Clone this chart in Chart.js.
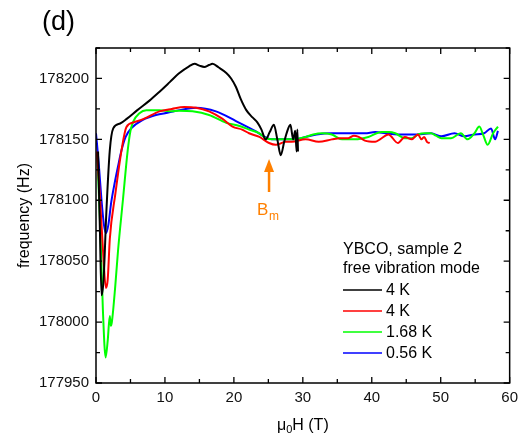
<!DOCTYPE html>
<html>
<head>
<meta charset="utf-8">
<script src="https://cdn.jsdelivr.net/npm/chart.js@4"></script>
<style>
  body { margin: 0; background: #fff; }
  canvas { display: block; }
</style>
</head>
<body>
<canvas id="chart" width="524" height="440"></canvas>
<script>
"use strict";

// data (x in T, y in Hz)
const blackX = [0.3, 0.55, 0.8, 1.1, 1.5, 2.0, 2.5, 3.5, 4.5, 6, 7.8, 9, 10.7, 12, 13.5, 14.3, 15, 15.7, 16.4, 16.9, 17.8, 18.9, 19.6, 20.3, 21, 21.8, 22.7, 23.4, 24, 24.6, 25.2, 25.8, 26.3, 26.8, 27.3, 27.7, 28.2, 28.6, 28.9, 29.1, 29.2, 29.3];
const blackY = [178140, 178080, 178022, 178035, 178090, 178141, 178159, 178163, 178167, 178174, 178182, 178188, 178197, 178204, 178210, 178212, 178210.5, 178209.5, 178211, 178212, 178209, 178204.5, 178200, 178193, 178183, 178174, 178168, 178164, 178158, 178150, 178156, 178162, 178150, 178137, 178148, 178156, 178162, 178150, 178157, 178140, 178158, 178140];

const redX = [0.1, 0.5, 1.0, 1.44, 1.7, 2.0, 2.8, 3.7, 4.4, 5.5, 7, 9.2, 11, 12.8, 14.5, 16.4, 18.3, 19.8, 21.2, 22.2, 23.7, 25.1, 26.1, 27.5, 28.4, 30.4, 32.3, 34.2, 35.4, 36.6, 37.4, 38.1, 39, 40.5, 41.2, 42.4, 43.8, 44.8, 45.8, 46.7, 47.2, 47.6, 48, 48.4];
const redY = [178140, 178110, 178060, 178028, 178035, 178068, 178105, 178141, 178160, 178164, 178167, 178173, 178175, 178176.5, 178176, 178173, 178167, 178160.5, 178158, 178155, 178152, 178147, 178145.5, 178148, 178148, 178150, 178148, 178150, 178151, 178151, 178153, 178152, 178149, 178148, 178150, 178154, 178147, 178152, 178150, 178154, 178150, 178152, 178148, 178147];

const greenX = [0.2, 0.6, 1.0, 1.4, 1.7, 2.0, 2.15, 2.3, 2.8, 3.2, 3.9, 4.6, 5.0, 5.4, 6.3, 7.3, 8.2, 9.2, 11, 12, 14, 16.4, 18.9, 20.8, 22.2, 23.7, 24.6, 25.5, 27, 28.5, 30.4, 31.5, 32.8, 34.2, 35.7, 37.6, 39.5, 41.4, 42.5, 43.4, 44.8, 45.8, 46.7, 47.7, 48.6, 49.3, 50.1, 51.5, 52.9, 53.9, 54.9, 55.6, 56.2, 56.8, 57.6, 58.3];
const greenY = [178135, 178080, 178010, 177971, 177985, 178005, 177997, 178000, 178030, 178059, 178100, 178141, 178157, 178164.6, 178171.5, 178174, 178174, 178174, 178173, 178173.5, 178173, 178170, 178163.5, 178161, 178158, 178155, 178151, 178150, 178150, 178150, 178152, 178154, 178155, 178154, 178150, 178150, 178152, 178156, 178156, 178155, 178151, 178151, 178154, 178155, 178155, 178153, 178151, 178151, 178155, 178150, 178155, 178160.5, 178153, 178145.5, 178155, 178160.5];

const blueX = [0, 0.4, 0.8, 1.15, 1.44, 1.8, 2.2, 2.7, 3.2, 3.7, 4.3, 5.1, 6.8, 8.7, 10.5, 12.1, 14.5, 17.4, 20.3, 23.2, 24.5, 25.5, 27.7, 29.4, 30.4, 32, 34.2, 36.5, 39, 40.5, 42, 43.8, 46.2, 48.6, 50.1, 52, 53.4, 54.9, 56.3, 57.3, 57.9, 58.3];
const blueY = [178155, 178130, 178100, 178080, 178073, 178080, 178098, 178114, 178128, 178141, 178152, 178159, 178166, 178170, 178172, 178174, 178176, 178173, 178165, 178156.5, 178152, 178150, 178150, 178150.5, 178152, 178154, 178155, 178155, 178155, 178156, 178155, 178154, 178154, 178155, 178152.5, 178155, 178152.5, 178154, 178155, 178159, 178150, 178157];

const seriesLabels = ['4 K', '4 K', '1.68 K', '0.56 K'];
const seriesColors = ['#000000', '#ff0000', '#00ff00', '#0000ff'];
const legendTitle = ['YBCO, sample 2', 'free vibration mode'];

const xTicks = [0, 10, 20, 30, 40, 50, 60];
const yTicks = [177950, 178000, 178050, 178100, 178150, 178200];
const xMinor = [5, 15, 25, 35, 45, 55];
const yMinor = [177975, 178025, 178075, 178125, 178175, 178225];
const bmField = 25.1;

const FONT = 'Arial, "Liberation Sans", sans-serif';

function toPoints(xs, ys) {
	return xs.map((x, i) => ({ x: x, y: ys[i] }));
}

const allX = [blackX, redX, greenX, blueX];
const allY = [blackY, redY, greenY, blueY];

const datasets = seriesLabels.map((label, i) => ({
	label: label,
	data: toPoints(allX[i], allY[i]),
	borderColor: seriesColors[i],
	borderWidth: 2,
	pointRadius: 0,
	fill: false,
	cubicInterpolationMode: 'monotone'
}));

const decorations = {
	id: 'decorations',
	afterDatasetsDraw(chart) {
		const ctx = chart.ctx;
		const area = chart.chartArea;
		const xs = chart.scales.x;
		const ys = chart.scales.y;
		ctx.save();

		// frame
		ctx.strokeStyle = '#000';
		ctx.lineWidth = 1.5;
		ctx.strokeRect(area.left, area.top, area.right - area.left, area.bottom - area.top);

		// inward ticks on all four sides
		ctx.lineWidth = 1.3;
		function xTick(v, len) {
			const px = xs.getPixelForValue(v);
			ctx.beginPath();
			ctx.moveTo(px, area.bottom); ctx.lineTo(px, area.bottom - len);
			ctx.moveTo(px, area.top); ctx.lineTo(px, area.top + len);
			ctx.stroke();
		}
		function yTick(v, len) {
			const py = ys.getPixelForValue(v);
			ctx.beginPath();
			ctx.moveTo(area.left, py); ctx.lineTo(area.left + len, py);
			ctx.moveTo(area.right, py); ctx.lineTo(area.right - len, py);
			ctx.stroke();
		}
		xTicks.forEach(v => xTick(v, 6));
		xMinor.forEach(v => xTick(v, 4));
		yTicks.forEach(v => yTick(v, 6));
		yMinor.forEach(v => yTick(v, 4));

		// B_m arrow
		const ax = xs.getPixelForValue(bmField);
		ctx.strokeStyle = '#ff8000';
		ctx.fillStyle = '#ff8000';
		ctx.lineWidth = 2.5;
		ctx.beginPath();
		ctx.moveTo(ax, 192);
		ctx.lineTo(ax, 168);
		ctx.stroke();
		ctx.beginPath();
		ctx.moveTo(ax, 159);
		ctx.lineTo(ax - 5, 172);
		ctx.lineTo(ax + 5, 172);
		ctx.closePath();
		ctx.fill();
		ctx.font = '17px ' + FONT;
		ctx.textBaseline = 'alphabetic';
		ctx.textAlign = 'left';
		ctx.fillText('B', ax - 12, 215);
		ctx.font = '12px ' + FONT;
		ctx.fillText('m', ax, 220);

		// legend
		ctx.fillStyle = '#000';
		ctx.font = '16px ' + FONT;
		ctx.textBaseline = 'middle';
		ctx.fillText(legendTitle[0], 343, 250);
		ctx.fillText(legendTitle[1], 343, 269);
		chart.data.datasets.forEach((ds, i) => {
			const y = 290 + i * 21;
			ctx.strokeStyle = ds.borderColor;
			ctx.lineWidth = 1.5;
			ctx.beginPath();
			ctx.moveTo(343, y);
			ctx.lineTo(382, y);
			ctx.stroke();
			ctx.fillStyle = '#000';
			ctx.fillText(ds.label, 386, y + 1);
		});

		// panel label
		ctx.font = '27px ' + FONT;
		ctx.fillText('(d)', 42, 23);

		// axis titles
		ctx.font = '16px ' + FONT;
		ctx.textAlign = 'left';
		ctx.textBaseline = 'alphabetic';
		const cx = (area.left + area.right) / 2;
		const w1 = ctx.measureText('\u03bc').width;
		ctx.font = '11px ' + FONT;
		const w2 = ctx.measureText('0').width;
		ctx.font = '16px ' + FONT;
		const w3 = ctx.measureText('H (T)').width;
		let tx = cx - (w1 + w2 + w3) / 2;
		ctx.fillText('\u03bc', tx, 430);
		ctx.font = '11px ' + FONT;
		ctx.fillText('0', tx + w1, 433);
		ctx.font = '16px ' + FONT;
		ctx.fillText('H (T)', tx + w1 + w2, 430);

		ctx.translate(25, (area.top + area.bottom) / 2);
		ctx.rotate(-Math.PI / 2);
		ctx.textAlign = 'center';
		ctx.textBaseline = 'middle';
		ctx.fillText('frequency (Hz)', 0, 0);

		ctx.restore();
	}
};

const ctx = document.querySelector('#chart').getContext('2d');
new Chart(ctx, {
	type: 'line',
	data: { datasets: datasets },
	options: {
		responsive: false,
		animation: false,
		layout: { padding: { top: 48, right: 12, left: 0, bottom: 0 } },
		plugins: {
			legend: { display: false },
			tooltip: { enabled: false }
		},
		scales: {
			x: {
				type: 'linear',
				min: 0,
				max: 60,
				afterBuildTicks: s => { s.ticks = xTicks.map(v => ({ value: v })); },
				afterFit: s => { s.height = 57; },
				ticks: { font: { size: 15, family: FONT }, color: '#111', padding: 6, maxRotation: 0, callback: v => String(v) },
				grid: { display: false, drawTicks: false },
				border: { display: false }
			},
			y: {
				type: 'linear',
				min: 177950,
				max: 178225,
				afterBuildTicks: s => { s.ticks = yTicks.map(v => ({ value: v })); },
				afterFit: s => { s.width = 96; },
				ticks: { font: { size: 15, family: FONT }, color: '#111', padding: 7, callback: v => String(v) },
				grid: { display: false, drawTicks: false },
				border: { display: false }
			}
		}
	},
	plugins: [decorations]
});
</script>
</body>
</html>
